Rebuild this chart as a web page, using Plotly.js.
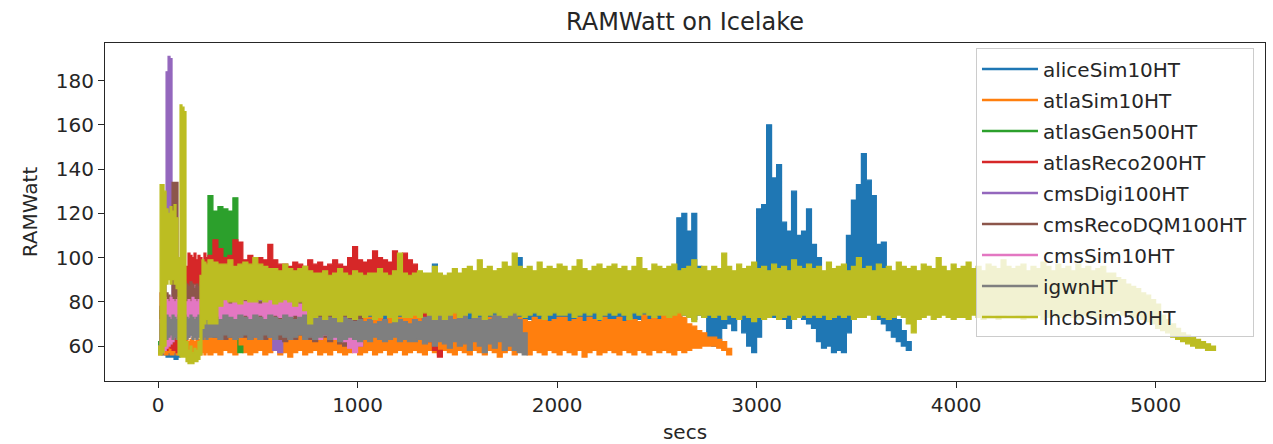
<!DOCTYPE html>
<html><head><meta charset="utf-8">
<script src="https://cdn.plot.ly/plotly-3.0.1.min.js"></script>
<style>html,body{margin:0;padding:0;background:#fff}#chart{width:1273px;height:444px}</style>
</head><body><div id="chart"></div>
<script>
// Sampling grid: 0..250 s every 10 s, then every 25 s from 275 s.
const fineStep = 10, fineCount = 26, coarseStart = 275, coarseStep = 25;

const seriesNames = ["aliceSim10HT","atlaSim10HT","atlasGen500HT","atlasReco200HT","cmsDigi100HT","cmsRecoDQM100HT","cmsSim10HT","igwnHT","lhcbSim50HT"];
const seriesColors = ["#1f77b4","#ff7f0e","#2ca02c","#d62728","#9467bd","#8c564b","#e377c2","#7f7f7f","#bcbd22"];

// Each series: upper / lower envelope of the RAMWatt trace for each sample interval
const aliceHi = [60,72,75,76,74,75,73,76,75,74,75,76,74,78,80,82,85,86,84,87,88,86,87,85,88,87,
 88,90,89,91,88,90,89,91,90,89, 90,88,91,89,90,88,91,90,89,91, 89,91,90,88,91,89,90,91,88,90,
 91,89,90,92,89,91,90,88,91,90, 89,91,90,92,97,89,91,88,90,91, 90,92,89,91,90,88,91,90,92,89,
 91,100,90,89,91,92,90,88,91,90, 89,91,90,92,89,90,91,89,90,92, 90,89,91,90,92,89,91,90,89,91,
 90,91,89,118,120,112,120,96,92,91, 90,92,91,89,92,90,91,89,92,122, 124,160,136,142,116,112,130,110,112,122,
 106,100,92,91,92,90,92,110,126,133, 147,135,128,106,107,90,76,72,67,62];
const aliceLo = [57,57,56,56,55,55,55,55,54,54,55,56,58,62,66,70,72,73,72,74,73,72,74,73,72,73,
 73,72,74,73,72,74,73,72,74,73, 72,74,73,72,74,73,72,73,74,72, 74,73,72,74,73,72,74,73,72,74,
 73,72,74,73,72,74,73,72,74,73, 72,74,73,72,74,73,72,74,73,72, 71,72,70,71,72,70,71,72,70,71,
 72,70,71,72,70,71,72,70,71,72, 70,71,72,70,71,72,70,71,72,70, 71,72,70,71,70,72,69,70,68,70,
 74,73,75,72,74,73,72,74,73,64, 60,61,68,70,67,72,66,60,57,64, 74,75,73,74,72,68,73,74,72,70,
 68,62,59,60,57,58,57,66,74,75, 76,75,74,72,70,67,64,62,60,58];

const atlaHi = [58,62,63,64,62,63,62,64,63,62,64,63,62,63,64,62,63,64,62,64,63,62,64,65,63,64,
 64,66,63,65,67,64,66,63,65,64, 66,64,67,65,63,66,64,65,67,64, 65,63,66,64,67,65,66,68,72,74,
 75,73,76,74,72,75,77,73,75,74, 76,74,75,73,76,74,72,75,77,74, 72,71,73,72,71,73,72,71,73,72,
 71,73,72,71,73,72,73,71,72,73, 73,71,72,73,71,73,72,71,73,72, 72,73,71,73,72,71,74,72,73,72,
 74,76,75,75,73,70,69,67,66,64, 64,63,62,59];
const atlaLo = [56,56,57,56,56,57,56,56,57,56,56,57,56,56,57,56,57,56,57,56,57,56,57,56,57,56,
 57,56,58,57,56,58,57,56,57,58, 56,57,58,56,57,55,57,58,56,57, 58,56,57,56,58,57,56,57,58,56,
 57,58,56,57,58,56,57,58,56,57, 58,57,56,58,57,56,58,57,56,58, 57,56,58,57,56,58,57,55,57,58,
 56,58,57,56,58,57,56,58,57,56, 58,57,56,58,55,57,58,56,57,58, 57,56,58,57,56,58,57,56,58,57,
 58,57,56,58,57,58,59,59,60,60, 60,59,58,56];

const atlasGenHi = [62,76,78,80,82,80,79,81,80,82,81,80,82,81,80,82,81,83,82,80,82,81,83,82,80,128,
 121,123,122,121,127,60];
const atlasGenLo = [58,62,64,66,65,67,66,65,67,66,65,67,66,65,67,66,65,67,66,65,67,66,65,67,66,95,
 96,95,96,95,94,57];

const atlasRecoHi = [60,84,80,78,76,78,80,77,79,80,78,80,82,84,96,102,101,100,102,99,101,100,98,102,100,101,
 108,104,100,101,108,107,99,101,98,100, 99,106,99,97,97,96,98,97,96,99, 97,98,96,97,99,97,96,100,105,99,
 98,99,103,100,99,98,103,100,102,99, 97,90,76,66,62,58];
const atlasRecoLo = [57,58,60,59,58,60,59,58,58,57,58,59,60,62,70,86,87,85,88,86,87,86,88,87,85,86,
 88,87,89,88,87,89,88,87,88,89, 87,88,89,87,88,86,88,87,89,88, 88,86,87,88,89,87,86,88,87,88,
 87,88,86,89,87,88,86,87,88,86, 85,76,72,62,58,55];

const cmsDigiHi = [60,70,72,75,184,191,190,86,84,86,85,84,86,85,87,86,85,87,86,85,86,87,85,86,88,87,
 88,85,84,85,83,84,85,83,84,82,83,84,82,80];
const cmsDigiLo = [57,58,58,58,110,112,110,64,65,64,65,66,64,65,66,64,65,66,64,65,66,64,65,66,64,65,
 66,65,64,66,65,64,66,65,64,65,66,64,58,57];

const cmsRecoHi = [60,78,80,82,84,83,82,134,134,134,88,88,87,89,88,87,89,88,86,88,87,89,88,87,86,85,
 84,82,83,81,80,82,81,83,82,80, 81,82,80,79,81,80,82,81,79,80, 81,80,79,81,80,78,79,80,78,77];
const cmsRecoLo = [57,58,60,60,61,60,61,62,64,66,70,72,72,74,75,74,73,75,74,73,75,74,73,75,74,72,
 64,65,63,64,66,65,64,63,65,64, 63,65,64,63,62,64,63,65,64,63, 62,63,64,62,63,61,60,62,60,60];

const cmsSimHi = [60,72,80,82,81,80,82,81,80,81,82,80,81,79,80,81,80,82,81,80,81,80,81,80,79,80,
 81,80,81,79,80,81,80,81,80,79, 80,81,82,80,81,80,81,79,78,74, 72,71,70,72,71,70,69,71,70,68];
const cmsSimLo = [57,58,57,58,59,60,61,62,64,66,68,70,72,73,72,73,74,73,72,73,74,73,72,73,72,73,
 73,72,74,73,72,73,74,72,73,74, 72,73,74,73,72,73,74,72,70,66, 64,63,65,64,63,64,62,59,57,60];

const igwnHi = [60,70,73,72,74,73,72,74,73,72,74,73,72,74,73,72,74,73,72,73,74,72,73,74,72,73,
 73,72,74,73,72,74,73,72,74,73, 72,74,73,72,74,73,72,73,74,73, 74,73,72,73,74,72,73,72,71,72,
 71,72,70,71,72,70,71,72,71,70, 72,71,73,74,72,75,73,74,72,75, 74,72,75,73,76,72,74,75,73,74,
 75,72,66];
const igwnLo = [57,58,62,64,63,64,65,63,64,63,64,65,63,64,63,64,65,63,64,63,64,65,63,64,63,64,
 64,63,65,64,63,64,65,63,64,63, 65,64,63,65,64,63,64,65,63,64, 63,64,65,63,64,62,63,64,63,62,
 63,62,64,63,62,63,64,62,63,62, 62,63,61,62,60,62,61,59,62,60, 61,58,62,60,57,61,59,62,58,60,
 58,57,56];

const lhcbHi = [60,133,133,130,122,120,123,121,124,118,100,169,168,166,62,58,60,57,59,58,62,92,99,98,97,99,
 98,97,97,99,96,97,98,97,100,97, 96,95,95,94,97,95,94,95,96,94, 93,93,94,92,93,95,93,92,94,93,
 92,93,93,95,93,92,94,102,93,92, 93,94,93,93,96,93,92,93,95,93, 95,96,94,99,95,96,94,95,98,96,
 102,96,95,96,94,98,95,96,95,97, 96,94,96,99,95,94,96,97,95,96, 97,95,96,94,96,100,95,94,97,96,
 95,96,97,94,95,96,99,95,96,94, 96,95,102,96,94,97,95,96,98,95, 96,94,97,95,96,94,99,96,95,97,
 95,96,94,98,95,96,97,94,96,100, 95,96,94,97,95,96,94,98,96,95, 96,94,97,96,95,100,96,94,97,95,
 96,98,95,96,94,97,96,95,99,96, 95,96,97,94,96,95,98,96,94,97, 95,96,94,97,95,96,94,95,96,93,
 93,91,90,88,87,86,84,83,81,79, 74,72,70,68,66,65,64,63,62,61, 60];
const lhcbLo = [56,56,57,60,88,90,88,90,88,86,56,55,55,55,53,52,52,52,53,53,54,56,68,70,72,70,
 70,78,81,80,80,79,81,80,80,81, 80,81,79,80,81,80,78,80,76,70, 73,74,72,74,73,71,74,73,72,74,
 73,74,72,73,74,73,71,74,73,73, 74,73,75,74,72,74,72,74,75,73, 74,75,73,74,72,74,75,74,73,74,
 75,74,73,74,75,74,72,74,75,74, 74,75,73,74,75,74,75,72,74,75, 74,75,74,72,75,74,75,74,73,74,
 74,73,74,75,74,73,71,74,73,74, 73,74,72,74,73,72,74,73,71,73, 72,73,74,72,73,74,72,73,74,73,
 74,73,74,72,73,74,73,74,72,73, 73,74,72,74,73,72,73,74,73,70, 66,72,73,74,72,73,74,73,72,73,
 73,72,74,73,72,73,74,72,73,74, 74,73,72,74,73,74,72,73,74,73, 73,74,73,72,74,73,74,72,73,74,
 75,76,74,75,73,74,72,71,70,68, 67,66,64,63,62,61,60,59,59,58, 58];

const highs = [aliceHi, atlaHi, atlasGenHi, atlasRecoHi, cmsDigiHi, cmsRecoHi, cmsSimHi, igwnHi, lhcbHi];
const lows  = [aliceLo, atlaLo, atlasGenLo, atlasRecoLo, cmsDigiLo, cmsRecoLo, cmsSimLo, igwnLo, lhcbLo];

function sampleTime(i){ return i < fineCount ? i*fineStep : coarseStart + (i-fineCount)*coarseStep; }

const FONT = "DejaVu Sans, Verdana, sans-serif";
const INK = "#262626";
const traces = [];
seriesNames.forEach((name, s) => {
  const hi = highs[s], lo = lows[s], n = hi.length;
  const x = [], y = [];
  // upper edge, stepping forward over each sample interval
  for (let i = 0; i < n; i++) {
    x.push(sampleTime(i), sampleTime(i + 1));
    y.push(hi[i], hi[i]);
  }
  // lower edge, stepping back
  for (let i = n - 1; i >= 0; i--) {
    x.push(sampleTime(i + 1), sampleTime(i));
    y.push(lo[i], lo[i]);
  }
  traces.push({
    type: "scatter", mode: "lines", x: x, y: y,
    fill: "toself", fillcolor: seriesColors[s],
    line: {color: seriesColors[s], width: 1.2},
    showlegend: false, hoverinfo: "skip"
  });
});
seriesNames.forEach((name, s) => {
  traces.push({type: "scatter", mode: "lines", x: [null], y: [null], name: name,
    legendgroup: "g" + s,
    line: {color: seriesColors[s], width: 2.5}, showlegend: true});
});

const layout = {
  width: 1273, height: 444,
  margin: {l: 105, r: 8, t: 43, b: 63},
  paper_bgcolor: "#ffffff", plot_bgcolor: "#ffffff",
  font: {family: FONT, size: 20, color: INK},
  title: {text: "RAMWatt on Icelake", font: {family: FONT, size: 24, color: INK},
          x: 0.5, xref: "paper", xanchor: "center", y: 0.951, yref: "container", yanchor: "middle"},
  xaxis: {range: [-266, 5548], tickvals: [0,1000,2000,3000,4000,5000], ticktext: ["0","1000","2000","3000","4000","5000"],
          ticks: "outside", ticklen: 6, tickwidth: 1, tickcolor: INK,
          showline: true, linecolor: INK, linewidth: 1, mirror: true,
          showgrid: false, zeroline: false, tickfont: {size: 20},
          title: {text: "secs", font: {size: 20}, standoff: 8}},
  yaxis: {range: [44.2, 197], tickvals: [60,80,100,120,140,160,180], ticktext: ["60","80","100","120","140","160","180"],
          ticks: "outside", ticklen: 6, tickwidth: 1, tickcolor: INK,
          showline: true, linecolor: INK, linewidth: 1, mirror: true,
          showgrid: false, zeroline: false, tickfont: {size: 20},
          title: {text: "RAMWatt", font: {size: 20}, standoff: 12}},
  legend: {x: 0.9905, y: 0.984, xanchor: "right", yanchor: "top",
           bgcolor: "rgba(255,255,255,0.8)", bordercolor: "#cccccc", borderwidth: 1,
           font: {family: FONT, size: 20, color: INK}, itemwidth: 56, tracegroupgap: 2},
  showlegend: true
};
Plotly.newPlot("chart", traces, layout, {displayModeBar: false, staticPlot: true});
</script></body></html>
